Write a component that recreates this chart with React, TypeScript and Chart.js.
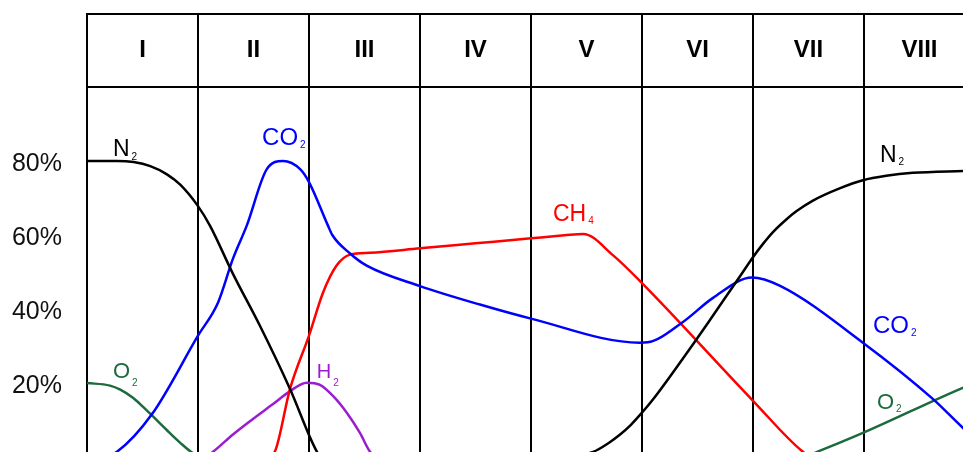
import React, { useEffect, useRef } from 'react';
import { Chart, registerables } from 'chart.js';

Chart.register(...registerables);

// Phase headers (x axis categories) and y-axis tick values
const phases = ['I', 'II', 'III', 'IV', 'V', 'VI', 'VII', 'VIII'];
const yTickValues = [20, 40, 60, 80];

// Gas concentration curves: x in phase units (0..8), y in percent
const n2X = [0, 0.27, 0.42, 0.57, 0.72, 0.84, 1.0, 1.11, 1.315, 1.559, 1.829, 2.072, 2.11, 4.25, 4.56, 4.7, 4.8, 4.9, 4.98, 5.1, 5.46, 5.6, 5.79, 5.9, 5.99, 6.09, 6.18, 6.3, 6.39, 6.54, 6.78, 6.99, 7.2, 7.44, 7.89, 8.0];
const n2Y = [80, 80, 79.7, 78.6, 76.4, 73.6, 67.8, 62.4, 49.5, 35.4, 18.4, 1.4, 0, 0, 1.4, 3.8, 6.0, 8.7, 11.3, 15.6, 30.5, 36.5, 44.8, 49.6, 53.6, 57.6, 60.8, 64.2, 66.4, 69.3, 72.6, 74.8, 76.0, 76.8, 77.3, 77.4];

const co2X = [0, 0.15, 0.27, 0.586, 1.0, 1.18, 1.315, 1.44, 1.62, 1.766, 1.92, 2.0, 2.17, 2.21, 2.37, 2.52, 3.0, 3.54, 4.0, 4.98, 5.05, 5.36, 5.64, 5.99, 6.24, 6.99, 7.62, 7.89, 8.0];
const co2Y = [0, 0, 1.4, 11.6, 32.8, 41.7, 53.6, 62.6, 77.8, 80, 77.8, 74.3, 62.6, 60, 55, 51.7, 46.2, 41.2, 37.4, 30.9, 31, 36.3, 43, 48.5, 46.3, 30.9, 15.7, 7.9, 5];

const ch4X = [0, 1.63, 1.7, 1.829, 2.0, 2.126, 2.25, 2.37, 2.55, 3.0, 3.5, 4.0, 4.3, 4.47, 4.74, 5.0, 6.0, 6.45, 6.53, 8.0];
const ch4Y = [0, 0, 2, 18.4, 32.8, 44.4, 51.8, 54.7, 55.2, 56.4, 57.75, 59.1, 59.9, 60.3, 54.5, 47, 15.2, 1.4, 0, 0];

const h2X = [0, 1.06, 1.135, 1.315, 1.495, 1.676, 1.829, 1.979, 2.099, 2.216, 2.342, 2.459, 2.55, 2.61, 8.0];
const h2Y = [0, 0, 1.4, 6.1, 10.3, 14.3, 17.8, 20.1, 19.5, 16.5, 11.9, 6.5, 1.4, 0, 0];

const o2X = [0, 0.207, 0.3, 0.414, 0.5, 0.583, 0.718, 0.838, 0.958, 1.05, 6.44, 6.61, 6.99, 7.89, 8.0];
const o2Y = [20, 19.3, 18.2, 16.0, 13.7, 11.3, 7.3, 3.9, 1.0, 0, 0, 1.8, 6.5, 18.7, 20];

// Curve annotations (gas names with subscripts), anchored in data units
const noteMain = ['N', 'CO', 'CH', 'H', 'O', 'N', 'CO', 'O'];
const noteSub = ['2', '2', '4', '2', '2', '2', '2', '2'];
const noteX = [0.234, 1.577, 4.198, 2.07, 0.234, 7.144, 7.081, 7.117];
const noteY = [81.35, 84.4, 63.8, 21.4, 21.4, 79.7, 33.5, 13.0];

const FONT = '"Liberation Sans", Arial, Helvetica, sans-serif';
const BLACK = '#000000';
const BLUE = '#0000ff';
const RED = '#ff0000';
const PURPLE = '#9a1ecf';
const GREEN = '#1b6b3c';
const noteColor = [BLACK, BLUE, RED, PURPLE, GREEN, BLACK, BLUE, GREEN];
const noteSize = [23, 24, 23, 20, 22, 23, 24, 22];
const noteSubDrop = [4, 3, 3, 8, 8, 3, 3, 3];

const toPoints = (xs: number[], ys: number[]) => xs.map((x, i) => ({ x, y: ys[i] }));

const headerPlugin = {
  id: 'headerTop',
  afterDraw(chart: any) {
    const s = chart.scales.x2;
    const ctx = chart.ctx;
    ctx.save();
    ctx.strokeStyle = BLACK;
    ctx.lineWidth = 2;
    ctx.beginPath();
    ctx.moveTo(s.left - 1, s.top + 1);
    ctx.lineTo(s.right + 1, s.top + 1);
    ctx.stroke();
    ctx.restore();
  },
};

const notesPlugin = {
  id: 'gasNotes',
  afterDatasetsDraw(chart: any) {
    const { ctx } = chart;
    const xs = chart.scales.x;
    const ys = chart.scales.y;
    ctx.save();
    ctx.textAlign = 'left';
    ctx.textBaseline = 'alphabetic';
    for (let i = 0; i < noteMain.length; i++) {
      const px = xs.getPixelForValue(noteX[i]);
      const py = ys.getPixelForValue(noteY[i]);
      ctx.fillStyle = noteColor[i];
      ctx.font = `${noteSize[i]}px ${FONT}`;
      ctx.fillText(noteMain[i], px, py);
      const w = ctx.measureText(noteMain[i]).width;
      ctx.font = `10px ${FONT}`;
      ctx.fillText(noteSub[i], px + w + 2, py + noteSubDrop[i]);
    }
    ctx.restore();
  },
};

export default function App() {
  const ref = useRef<HTMLCanvasElement | null>(null);

  useEffect(() => {
    if (!ref.current) return;
    const ds = (label: string, xs: number[], ys: number[], color: string) => ({
      label,
      data: toPoints(xs, ys),
      borderColor: color,
      backgroundColor: color,
      borderWidth: 2.5,
      pointRadius: 0,
      fill: false,
      cubicInterpolationMode: 'monotone' as const,
      xAxisID: 'x',
      yAxisID: 'y',
    });
    const chart = new Chart(ref.current, {
      type: 'line',
      data: {
        datasets: [
          ds('N2', n2X, n2Y, BLACK),
          ds('CO2', co2X, co2Y, BLUE),
          ds('CH4', ch4X, ch4Y, RED),
          ds('H2', h2X, h2Y, PURPLE),
          ds('O2', o2X, o2Y, GREEN),
        ],
      },
      options: {
        responsive: false,
        animation: false,
        events: [],
        layout: { padding: { top: 13, left: 0, right: 15, bottom: 45 } },
        plugins: {
          legend: { display: false },
          tooltip: { enabled: false },
          title: { display: false },
        },
        scales: {
          x: { type: 'linear', min: 0, max: 8, display: false },
          x2: {
            type: 'category',
            position: 'top',
            labels: phases,
            offset: true,
            grid: {
              offset: true,
              color: BLACK,
              lineWidth: 2,
              drawOnChartArea: true,
              drawTicks: true,
              tickLength: 74,
            },
            border: { display: true, color: BLACK, width: 2 },
            ticks: {
              color: BLACK,
              font: { family: FONT, size: 24, weight: 'bold' },
              padding: -52,
              maxRotation: 0,
              autoSkip: false,
            },
            afterFit(scale: any) {
              scale.height = 74;
            },
          },
          y: {
            type: 'linear',
            min: 0,
            max: 100,
            afterBuildTicks(scale: any) {
              scale.ticks = yTickValues.map((v) => ({ value: v }));
            },
            ticks: {
              color: '#111111',
              font: { family: FONT, size: 25 },
              padding: 25,
              labelOffset: 3,
              callback: (v: any) => `${v}%`,
            },
            grid: { display: false, drawTicks: false },
            border: { display: false },
            afterFit(scale: any) {
              scale.width = 87;
            },
          },
        },
      },
      plugins: [headerPlugin, notesPlugin],
    });
    return () => chart.destroy();
  }, []);

  return (
    <div
      style={{
        position: 'fixed',
        left: 0,
        top: 0,
        width: 963,
        height: 452,
        overflow: 'hidden',
        background: '#ffffff',
      }}
    >
      <canvas ref={ref} width={990} height={502} style={{ display: 'block', width: 990, height: 502 }} />
    </div>
  );
}
